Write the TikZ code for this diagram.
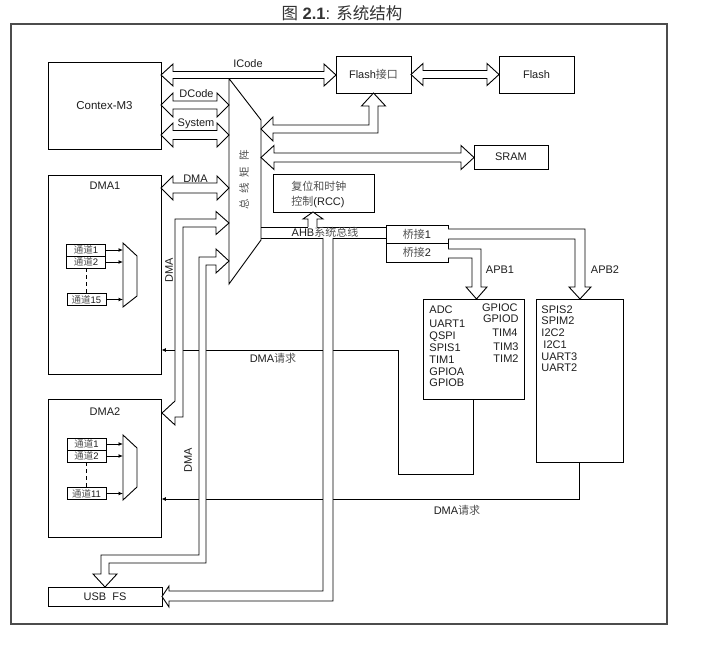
\documentclass[tikz,border=0pt]{standalone}
\usepackage{fontspec}
\setmainfont{Liberation Sans}
\newfontfamily\cjk{Noto Sans CJK SC}
\usetikzlibrary{arrows.meta,calc}
\definecolor{zhgray}{HTML}{505050}
\definecolor{ink}{HTML}{1E1E1E}
\newcommand\zh[1]{{\cjk\color{zhgray}#1}}
\newcommand\bx[6]{\node[box, minimum width={(#4-#2)*1pt}, minimum height={(#5-#3)*1pt}] (#1) at ({(#2+#4)/2},{(#3+#5)/2}) {#6};}
\newcommand\hdbl[6]{\draw[hollow] (#1,#3) -- ({#1+#6},{#3-#5}) -- ({#1+#6},{#3-#4}) -- ({#2-#6},{#3-#4}) -- ({#2-#6},{#3-#5}) -- (#2,#3) -- ({#2-#6},{#3+#5}) -- ({#2-#6},{#3+#4}) -- ({#1+#6},{#3+#4}) -- ({#1+#6},{#3+#5}) -- cycle;}
\begin{document}
\begin{tikzpicture}[x=1pt,y=-1pt,line width=0.9pt,
  every node/.style={font=\fontsize{11}{13}\selectfont,text=ink,inner sep=0pt},
  box/.style={draw,rectangle,inner sep=0pt},
  hollow/.style={draw,fill=white,line join=miter},
  tip/.style={-{Latex[length=4.5pt,width=4pt]}},
  chbox/.style={box,minimum width=39pt,minimum height=12pt,font=\fontsize{9.5}{11}\selectfont}]
\useasboundingbox (0,0) rectangle (702,647);
\fill[white] (0,0) rectangle (702,647);
% frame and title
\draw[line width=1.3pt,draw=black!70] (11,24) rectangle (667,624);
\node[text=black!80] (title) at (342,13.5) {\fontsize{16.5}{18}\selectfont{\cjk 图} \textbf{2.1}: {\cjk 系统结构}};
% boxes
\bx{cm}{48}{62}{161}{149}{\fontsize{11.5}{13}\selectfont Contex-M3}
\bx{dma1}{48}{175}{161}{374}{}
\bx{dma2}{48}{399}{161}{537}{}
\bx{usb}{48}{587}{162}{606}{USB\ \ FS}
\bx{fi}{336}{56}{411}{93}{Flash\zh{接口}}
\bx{flash}{499}{56}{574}{93}{Flash}
\bx{sram}{474}{145}{548}{169}{SRAM}
\bx{rcc}{273}{174}{374}{212}{}
\bx{br1}{386}{225}{448}{243}{\zh{桥接}1}
\bx{br2}{386}{243}{448}{262}{\zh{桥接}2}
\bx{apb1}{423}{299}{524}{399}{}
\bx{apb2}{536}{299}{623}{462}{}
\node (ldma1) at (105,186) {DMA1};
\node (ldma2) at (105,412) {DMA2};
\node[anchor=west,align=left,font=\fontsize{11}{15}\selectfont] (rcctext) at (291,194) {\zh{复位和时钟}\\\zh{控制}(RCC)};
% channels DMA1
\node[chbox] (c11) at (86,250) {\zh{通道}1};
\node[chbox] (c12) at (86,262) {\zh{通道}2};
\node[chbox] (c115) at (86.5,299.5) {\zh{通道}15};
\draw (123,243) -- (137,256) -- (137,296) -- (123,307) -- cycle;
\coordinate (m1) at (123,275);
\draw[tip] (c11.east) -- (c11.east -| m1);
\draw[tip] (c12.east) -- (c12.east -| m1);
\draw[tip] (c115.east) -- (c115.east -| m1);
\draw[dashed,dash pattern=on 4pt off 3pt] (c12.south) -- (c12.south |- c115.north);
% channels DMA2
\node[chbox] (c21) at (86.5,444) {\zh{通道}1};
\node[chbox] (c22) at (86.5,456) {\zh{通道}2};
\node[chbox] (c211) at (86.5,493.5) {\zh{通道}11};
\draw (123,435) -- (137,448) -- (137,487) -- (123,500) -- cycle;
\coordinate (m2) at (123,467);
\draw[tip] (c21.east) -- (c21.east -| m2);
\draw[tip] (c22.east) -- (c22.east -| m2);
\draw[tip] (c211.east) -- (c211.east -| m2);
\draw[dashed,dash pattern=on 4pt off 3pt] (c22.south) -- (c22.south |- c211.north);
% DMA request lines
\coordinate (r1a) at (398,474);
\coordinate (r1b) at (398,350);
\coordinate (r2) at (0,499);
\draw[tip] (apb1.south) |- (r1a) -- (r1b) -- (dma1.east |- r1b);
\draw[tip] (apb2.south) |- (dma2.east |- r2);
% bus matrix
\draw[hollow] (229,78.5) -- (261,120) -- (261,240) -- (229,284) -- cycle;
\node[rotate=90,font=\fontsize{10.5}{12}\selectfont] (mxlabel) at (244,180) {\zh{总\hspace{6pt}线\hspace{6pt}矩\hspace{6pt}阵}};
% hollow arrows
\hdbl{161}{336}{75}{3.5}{11}{12}
\hdbl{411}{499}{74.5}{4}{11}{12}
\hdbl{161}{229}{105}{4}{12}{12}
\hdbl{161}{229}{135}{4.5}{12}{12}
\hdbl{161}{229}{188}{5}{12}{12}
\hdbl{261}{474}{157.5}{4.5}{12}{13}
% matrix -> Flash interface
\draw[hollow] (261,129) -- (273,117) -- (273,125) -- (369,125) -- (369,106) -- (361.5,106) -- (373.5,93) -- (385.5,106) -- (378,106) -- (378,133) -- (273,133) -- (273,141) -- cycle;
% DMA2 <-> matrix
\draw[hollow] (229,223) -- (216,211.5) -- (216,219) -- (175,219) -- (175,401) -- (162,413) -- (175,425) -- (175,417) -- (183,417) -- (183,227) -- (216,227) -- (216,234.5) -- cycle;
% USB <-> matrix
\draw[hollow] (229,261) -- (216,249) -- (216,257) -- (199,257) -- (199,555) -- (101,555) -- (101,574) -- (93,574) -- (105,587) -- (117,574) -- (109,574) -- (109,563) -- (206,563) -- (206,265) -- (216,265) -- (216,273) -- cycle;
% AHB -> USB
\filldraw[hollow] (323,238) -- (323,591) -- (169,591) -- (169,586) -- (162,596.5) -- (169,607) -- (169,601) -- (333,601) -- (333,238);
% AHB -> RCC
\filldraw[hollow] (308,227) -- (308,219) -- (303,219) -- (313,212) -- (323,219) -- (317,219) -- (317,227);
% bridges -> APB
\filldraw[hollow] (448,229) -- (585,229) -- (585,287) -- (591,287) -- (580,299) -- (569,287) -- (575,287) -- (575,239) -- (448,239);
\filldraw[hollow] (448,249) -- (481,249) -- (481,287) -- (487,287) -- (476.5,299) -- (466,287) -- (472,287) -- (472,258) -- (448,258);
% AHB bus lines
\draw (261,227) -- (308,227) (317,227) -- (br1.west |- 0,227);
\draw (261,238) -- (323,238) (333,238) -- (br1.west |- 0,238);
% labels
\node (licode) at (248,64) {ICode};
\node (ldcode) at (196.5,94) {DCode};
\node (lsys) at (196,124) {System};
\node (ldma) at (195.5,178.5) {DMA};
\node[rotate=90] (ldmaa) at (169,270) {DMA};
\node[rotate=90] (ldmab) at (188,460) {DMA};
\node (lahb) at (325,232) {AHB\zh{系统总线}};
\node (lapb1) at (500,270) {APB1};
\node (lapb2) at (605,270) {APB2};
\node (lreq1) at (273,358) {DMA\zh{请求}};
\node (lreq2) at (457,510) {DMA\zh{请求}};
% APB1 peripherals
\node[anchor=west] (pa1) at (429,310) {ADC};
\node[anchor=west] (pa2) at (429,323.5) {UART1};
\node[anchor=west] (pa3) at (429,336.5) {QSPI};
\node[anchor=west] (pa4) at (429,348) {SPIS1};
\node[anchor=west] (pa5) at (429,359.5) {TIM1};
\node[anchor=west] (pa6) at (429,371.5) {GPIOA};
\node[anchor=west] (pa7) at (429,383) {GPIOB};
\node[anchor=east] (pb1) at (518,308) {GPIOC};
\node[anchor=east] (pb2) at (519,318.5) {GPIOD};
\node[anchor=east] (pb3) at (518,333) {TIM4};
\node[anchor=east] (pb4) at (519,347) {TIM3};
\node[anchor=east] (pb5) at (519,359) {TIM2};
% APB2 peripherals
\node[anchor=west] (pc1) at (541,309.5) {SPIS2};
\node[anchor=west] (pc2) at (541,321) {SPIM2};
\node[anchor=west] (pc3) at (541,333) {I2C2};
\node[anchor=west] (pc4) at (543,344.5) {I2C1};
\node[anchor=west] (pc5) at (541,356.5) {UART3};
\node[anchor=west] (pc6) at (541,368) {UART2};
\end{tikzpicture}
\end{document}
